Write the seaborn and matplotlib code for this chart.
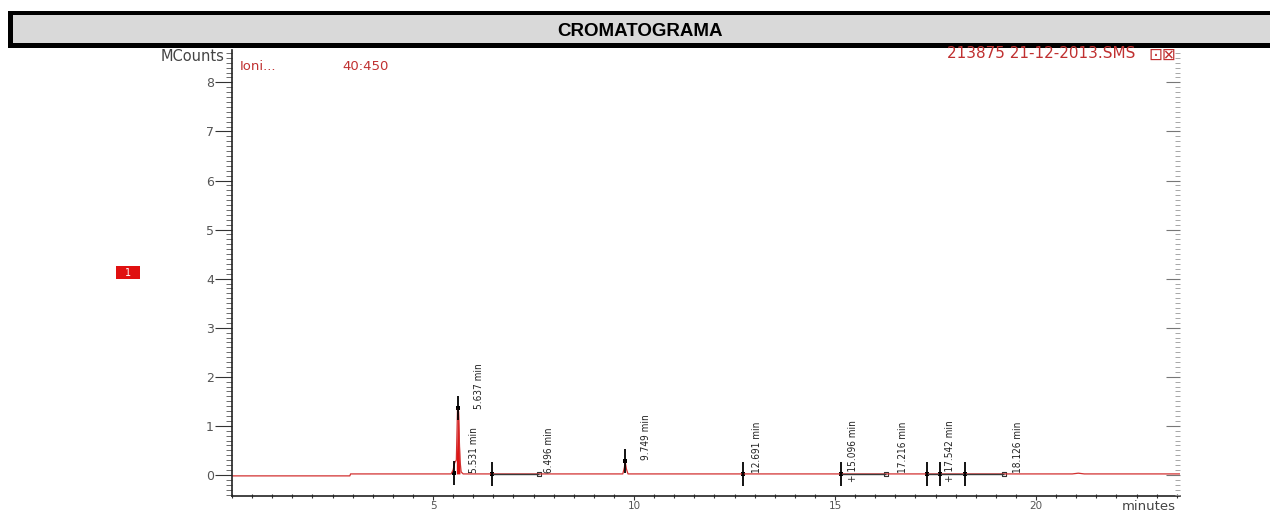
import matplotlib
matplotlib.use("Agg")
import matplotlib.pyplot as plt
import numpy as np
import seaborn as sns
from matplotlib import font_manager
from matplotlib.patches import Rectangle
from matplotlib.ticker import MultipleLocator

# chromatogram trace (minutes, MCounts)
trace_t = [0.0, 2.93, 2.95, 5.45, 5.50, 5.54, 5.58, 5.61, 5.635, 5.65, 5.67, 5.70, 5.75,
           9.72, 9.76, 9.78, 9.81, 9.85, 20.90, 21.05, 21.20, 23.58]
trace_y = [-0.02, -0.02, 0.02, 0.02, 0.10, 0.25, 0.30, 1.36, 1.30, 0.82, 0.30, 0.06, 0.02,
           0.02, 0.15, 0.27, 0.12, 0.02, 0.02, 0.035, 0.02, 0.02]

# integration markers
mark_t = [5.51, 5.62, 6.46, 9.78, 12.72, 15.14, 17.28, 17.60, 18.22]
mark_y = [0.04, 1.36, 0.02, 0.28, 0.02, 0.02, 0.02, 0.02, 0.02]
end_t = [7.64, 16.26, 19.19]
end_y = [0.02, 0.02, 0.02]
base_start = [6.46, 15.14, 17.28]
base_end = [7.64, 16.26, 19.19]
base_y = [0.02, 0.02, 0.02]

# peak labels
peak_labels = ["5.531 min", "5.637 min", "6.496 min", "9.749 min", "12.691 min",
               "+ 15.096 min", "17.216 min", "+ 17.542 min", "18.126 min"]
label_t = [6.02, 6.15, 7.88, 10.30, 13.07, 15.45, 16.70, 17.86, 19.55]
label_y = [0.04, 1.34, 0.04, 0.30, 0.04, -0.15, 0.04, -0.15, 0.04]

x_ticks = [5, 10, 15, 20]
y_ticks = [0, 1, 2, 3, 4, 5, 6, 7, 8]

# a condensed face for the peak labels, if one is installed
narrow_file = None
for key in ["LiberationSansNarrow-Regular", "DejaVuSansCondensed.", "Condensed", "Narrow"]:
    hits = [f.fname for f in font_manager.fontManager.ttflist
            if key in f.fname and "Bold" not in f.fname and "Oblique" not in f.fname
            and "Italic" not in f.fname and "Mono" not in f.fname and "Serif" not in f.fname]
    if hits:
        narrow_file = hits[0]
        break
if narrow_file:
    narrow = font_manager.FontProperties(fname=narrow_file, size=7.2)
else:
    narrow = font_manager.FontProperties(family="DejaVu Sans", size=6.5)

sns.set_theme(style="white")
plt.rcParams["font.family"] = ["DejaVu Sans"]

W, H = 1270, 514
fig = plt.figure(figsize=(12.7, 5.14), dpi=100)

# title banner
def px(x0, y0, x1, y1, **kw):
    fig.patches.append(Rectangle((x0 / W, 1 - y1 / H), (x1 - x0) / W, (y1 - y0) / H,
                                 transform=fig.transFigure, figure=fig, **kw))

px(8, 11, W, 48, facecolor="#d9d9d9", edgecolor="none")
px(8, 11, W, 15, facecolor="black", edgecolor="none")
px(8, 43, W, 48, facecolor="black", edgecolor="none")
px(8, 11, 13, 48, facecolor="black", edgecolor="none")
fig.text(640 / W, 1 - 32 / H, "CROMATOGRAMA", ha="center", va="center",
         fontsize=13.5, fontweight="bold", family="Liberation Sans", color="black")

ax = fig.add_axes([232 / W, (H - 496) / H, (1180 - 232) / W, (496 - 50) / H])

t = np.array(trace_t)
y = np.array(trace_y)
sns.lineplot(x=trace_t, y=trace_y, ax=ax, color="#d23030", lw=0.9, sort=False)
ax.fill_between(t, 0.02, y, where=(t >= 5.58) & (t <= 5.67), color="#e01515", lw=0)

# baselines between markers
ax.hlines(base_y, base_start, base_end, colors="#3a3a3a", lw=1.0)
ax.vlines(mark_t, np.array(mark_y) - 0.24, np.array(mark_y) + 0.24, colors="black", lw=1.3)
sns.scatterplot(x=mark_t, y=mark_y, ax=ax, marker="s", s=12, color="black",
                edgecolor="black", linewidth=0)
sns.scatterplot(x=end_t, y=end_y, ax=ax, marker="s", s=10, facecolor="white",
                edgecolor="#333333", linewidth=0.8)

for lab, lx, ly in zip(peak_labels, label_t, label_y):
    ax.text(lx, ly, lab, rotation=90, ha="center", va="bottom",
            fontproperties=narrow, color="#222222")

ax.set_xlim(0, 23.58)
ax.set_ylim(-0.43, 8.66)
ax.set_xticks(x_ticks)
ax.set_yticks(y_ticks)
ax.xaxis.set_minor_locator(MultipleLocator(0.5))
ax.yaxis.set_minor_locator(MultipleLocator(0.1))
ax.tick_params(axis="y", which="major", direction="out", length=12, width=0.8,
               color="#333333", labelsize=9, labelcolor="#555555", pad=1, left=True)
ax.tick_params(axis="y", which="minor", direction="out", length=4.5, width=0.6,
               color="#555555", left=True)
ax.tick_params(axis="x", which="major", direction="out", length=3, width=0.8,
               color="#333333", labelsize=7.5, labelcolor="#555555", pad=0.5, bottom=True)
ax.tick_params(axis="x", which="minor", direction="inout", length=3, width=0.8,
               color="#333333", bottom=True)
for s in ["top", "right"]:
    ax.spines[s].set_visible(False)
for s in ["left", "bottom"]:
    ax.spines[s].set_color("#222222")
    ax.spines[s].set_linewidth(1.2)
ax.set_xlabel("")
ax.set_ylabel("")

# right inward ticks
ax2 = ax.twinx()
ax2.set_ylim(ax.get_ylim())
ax2.set_yticks(y_ticks)
ax2.yaxis.set_minor_locator(MultipleLocator(0.1))
ax2.tick_params(axis="y", which="major", direction="in", length=10, width=0.8,
                color="#777777", labelright=False)
ax2.tick_params(axis="y", which="minor", direction="in", length=3.5, width=0.6,
                color="#999999")
for s in ax2.spines.values():
    s.set_visible(False)

# chart decorations
fig.text(224 / W, 1 - 56 / H, "MCounts", ha="right", va="center", fontsize=10.5,
         color="#444444")
fig.text(240 / W, 1 - 66 / H, "Ioni...", ha="left", va="center", fontsize=9.5,
         color="#c03030")
fig.text(342 / W, 1 - 66 / H, "40:450", ha="left", va="center", fontsize=9.5,
         color="#c03030")
fig.text(1135 / W, 1 - 54 / H, "213875 21-12-2013.SMS", ha="right", va="center",
         fontsize=11, color="#c03030")
fig.text(1162 / W, 1 - 55 / H, "\u22a1\u22a0", ha="center", va="center",
         fontsize=12, color="#c03030")
fig.text(1176 / W, 1 - 506 / H, "minutes", ha="right", va="center", fontsize=9.5,
         color="#444444")
px(116, 266, 140, 279, facecolor="#e01010", edgecolor="none")
fig.text(128 / W, 1 - 272.5 / H, "1", ha="center", va="center", fontsize=7,
         color="white")

fig.savefig("out.png", dpi=100)
